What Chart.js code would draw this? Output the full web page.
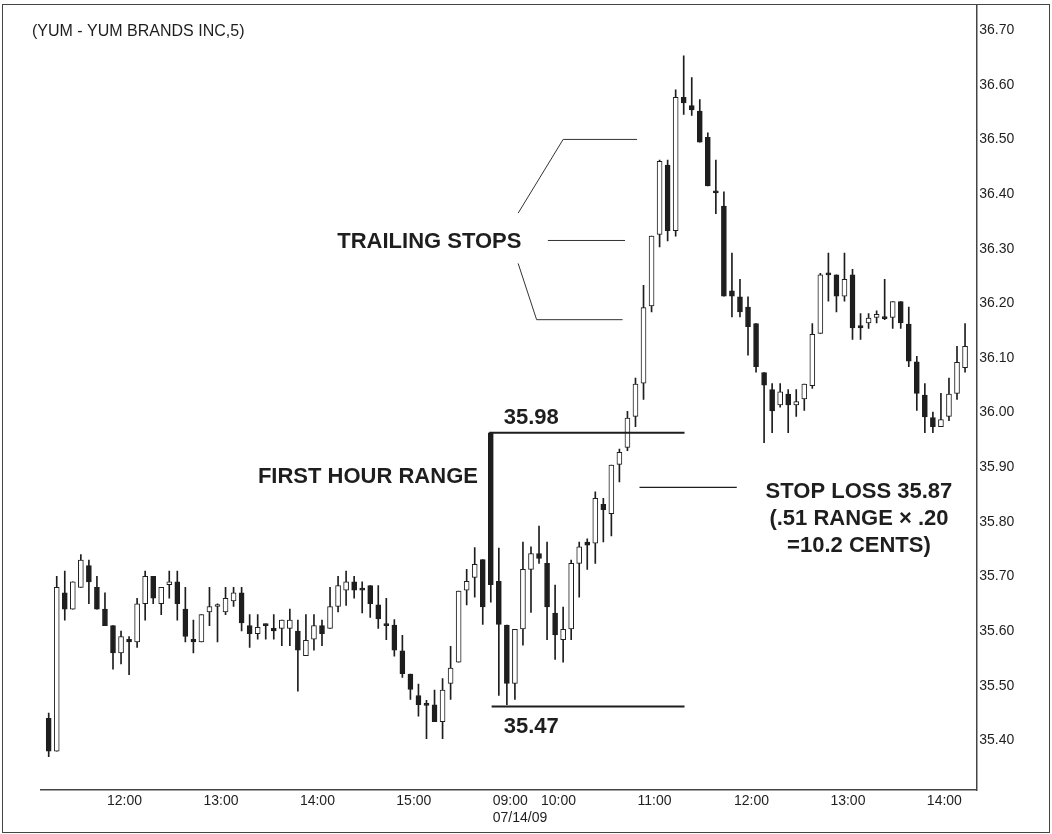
<!DOCTYPE html>
<html>
<head>
<meta charset="utf-8">
<title>YUM 5-minute bars</title>
<script src="https://cdn.jsdelivr.net/npm/chart.js@4.4.1/dist/chart.umd.min.js"></script>
<style>
  html, body { margin: 0; padding: 0; background: #fff; }
  #wrap { width: 1052px; height: 834px; }
</style>
</head>
<body>
<div id="wrap"><canvas id="chart" width="1052" height="834"></canvas></div>
<script>
// 5-minute bars, 11:25 on 07/13/09 through about 14:25 on 07/14/09 (bar 56 = 09:30 open)
const opens = [
  35.44, 35.38, 35.67, 35.64, 35.68, 35.72, 35.68, 35.64, 35.61, 35.56,
  35.585, 35.58, 35.65, 35.70, 35.65, 35.685, 35.69, 35.64, 35.585, 35.58,
  35.635, 35.645, 35.635, 35.655, 35.67, 35.61, 35.595, 35.612, 35.605, 35.605,
  35.605, 35.60, 35.555, 35.585, 35.61, 35.605, 35.645, 35.675, 35.69, 35.677,
  35.683, 35.648, 35.613, 35.611, 35.564, 35.521, 35.482, 35.466, 35.465, 35.434,
  35.504, 35.543, 35.675, 35.698, 35.731,
  35.963, 35.691, 35.611, 35.504, 35.604, 35.713, 35.742, 35.724, 35.633, 35.584,
  35.604, 35.724, 35.763, 35.761, 35.832, 35.815, 35.905, 35.936, 35.993, 36.054,
  36.195, 36.326, 36.453, 36.333, 36.577, 36.562, 36.552, 36.504, 36.406, 36.378,
  36.223, 36.212, 36.193, 36.163, 36.073, 36.042, 36.014, 36.034, 36.014, 36.025,
  36.049, 36.145, 36.254, 36.252, 36.213, 36.252, 36.159, 36.164, 36.174, 36.174,
  36.174, 36.203, 36.162, 36.093, 36.032, 35.991, 35.974, 35.993, 36.035, 36.082
];
const highs = [
  35.45, 35.70, 35.71, 35.69, 35.74, 35.73, 35.70, 35.67, 35.61, 35.60,
  35.59, 35.66, 35.71, 35.70, 35.68, 35.71, 35.71, 35.68, 35.62, 35.63,
  35.68, 35.65, 35.68, 35.68, 35.68, 35.63, 35.63, 35.613, 35.63, 35.62,
  35.64, 35.62, 35.63, 35.63, 35.62, 35.68, 35.70, 35.71, 35.70, 35.69,
  35.683, 35.683, 35.66, 35.621, 35.592, 35.521, 35.503, 35.473, 35.492, 35.513,
  35.572, 35.673, 35.713, 35.753, 35.731,
  35.963, 35.752, 35.611, 35.603, 35.763, 35.754, 35.792, 35.763, 35.684, 35.644,
  35.73, 35.763, 35.769, 35.855, 35.843, 35.904, 35.933, 36.002, 36.063, 36.233,
  36.323, 36.462, 36.462, 36.591, 36.653, 36.613, 36.573, 36.512, 36.462, 36.404,
  36.292, 36.244, 36.212, 36.163, 36.073, 36.053, 36.053, 36.042, 36.042, 36.052,
  36.163, 36.255, 36.292, 36.252, 36.292, 36.262, 36.181, 36.181, 36.186, 36.244,
  36.203, 36.203, 36.193, 36.103, 36.053, 36.001, 36.035, 36.063, 36.121, 36.163
];
const lows = [
  35.37, 35.38, 35.62, 35.64, 35.68, 35.65, 35.64, 35.61, 35.53, 35.54,
  35.52, 35.57, 35.62, 35.65, 35.63, 35.66, 35.62, 35.58, 35.56, 35.58,
  35.61, 35.58, 35.63, 35.645, 35.60, 35.57, 35.585, 35.585, 35.585, 35.573,
  35.573, 35.49, 35.555, 35.565, 35.573, 35.605, 35.635, 35.647, 35.66, 35.633,
  35.625, 35.605, 35.584, 35.554, 35.515, 35.475, 35.444, 35.403, 35.434, 35.403,
  35.475, 35.543, 35.648, 35.662, 35.612,
  35.653, 35.482, 35.465, 35.475, 35.574, 35.634, 35.724, 35.584, 35.548, 35.543,
  35.584, 35.662, 35.713, 35.724, 35.763, 35.774, 35.873, 35.93, 35.974, 36.024,
  36.184, 36.303, 36.314, 36.323, 36.546, 36.544, 36.495, 36.415, 36.364, 36.213,
  36.175, 36.175, 36.105, 36.074, 35.945, 35.963, 36.010, 35.963, 35.993, 36.004,
  36.044, 36.145, 36.204, 36.184, 36.204, 36.134, 36.134, 36.154, 36.164, 36.170,
  36.154, 36.154, 36.084, 36.004, 35.963, 35.963, 35.974, 35.985, 36.024, 36.074
];
const closes = [
  35.38, 35.68, 35.64, 35.69, 35.73, 35.69, 35.64, 35.61, 35.56, 35.59,
  35.58, 35.65, 35.70, 35.66, 35.68, 35.69, 35.65, 35.59, 35.58, 35.63,
  35.645, 35.645, 35.66, 35.67, 35.615, 35.595, 35.607, 35.61, 35.60, 35.62,
  35.62, 35.565, 35.583, 35.61, 35.595, 35.645, 35.683, 35.69, 35.675, 35.675,
  35.65, 35.622, 35.61, 35.565, 35.522, 35.493, 35.465, 35.464, 35.434, 35.492,
  35.532, 35.673, 35.691, 35.722, 35.644,
  35.685, 35.612, 35.504, 35.603, 35.713, 35.742, 35.733, 35.644, 35.593, 35.603,
  35.724, 35.754, 35.757, 35.843, 35.822, 35.904, 35.927, 35.990, 36.052, 36.192,
  36.323, 36.460, 36.333, 36.577, 36.567, 36.554, 36.495, 36.415, 36.402, 36.213,
  36.213, 36.184, 36.157, 36.084, 36.050, 36.003, 36.038, 36.014, 36.020, 36.052,
  36.143, 36.252, 36.252, 36.213, 36.244, 36.155, 36.155, 36.173, 36.180, 36.172,
  36.203, 36.164, 36.094, 36.035, 35.992, 35.974, 35.987, 36.034, 36.092, 36.121
];

const priceTicks = [35.40, 35.50, 35.60, 35.70, 35.80, 35.90, 36.00, 36.10, 36.20, 36.30, 36.40, 36.50, 36.60, 36.70];
const timeTickPos = [8, 20, 32, 44, 56, 62, 74, 86, 98, 110];
const timeTickLabels = ['12:00', '13:00', '14:00', '15:00', ['09:00', '07/14/09'], '10:00', '11:00', '12:00', '13:00', '14:00'];

// levels marked on the chart (price units)
const rangeHigh = 35.963;
const rangeLow = 35.462;
const stopLevel = 35.863;
const trailLevels = [36.50, 36.315, 36.170];

const ink = '#1e1e1e';
const labelFont = '"Liberation Sans", Arial, Helvetica, sans-serif';

const bars = opens.map((o, i) => i + 1);

// annotation layout in chart units: [bar index, price]
const notesCfg = {
  title: { text: '(YUM - YUM BRANDS INC,5)' },
  trail: [
    [[59.4, 36.365], [65.0, trailLevels[0]], [74.2, trailLevels[0]]],
    [[63.1, trailLevels[1]], [72.7, trailLevels[1]]],
    [[59.4, 36.273], [61.7, trailLevels[2]], [72.4, trailLevels[2]]]
  ],
  texts: [
    { text: 'TRAILING STOPS', at: [36.9, 36.312], align: 'left' },
    { text: '35.98', at: [57.6, 35.990], align: 'left' },
    { text: '35.47', at: [57.6, 35.424], align: 'left' },
    { text: 'FIRST HOUR RANGE', at: [54.4, 35.883], align: 'right' },
    { text: 'STOP LOSS 35.87', at: [101.8, 35.854], align: 'center' },
    { text: '(.51 RANGE \u00d7 .20', at: [101.8, 35.805], align: 'center' },
    { text: '=10.2 CENTS)', at: [101.8, 35.755], align: 'center' }
  ]
};

const notes = {
  id: 'notes',
  afterDatasetsDraw(chart) {
    const { ctx, scales: { x, y } } = chart;
    const px = v => x.getPixelForValue(v);
    const py = v => y.getPixelForValue(v);
    ctx.save();
    ctx.strokeStyle = ink;
    ctx.lineCap = 'butt';

    // first hour range lines
    ctx.lineWidth = 2;
    ctx.beginPath();
    ctx.moveTo(px(55.8), py(rangeHigh));
    ctx.lineTo(px(80.1), py(rangeHigh));
    ctx.moveTo(px(56.1), py(rangeLow));
    ctx.lineTo(px(80.1), py(rangeLow));
    ctx.stroke();

    // stop loss line
    ctx.lineWidth = 1.2;
    ctx.beginPath();
    ctx.moveTo(px(74.5), py(stopLevel));
    ctx.lineTo(px(86.6), py(stopLevel));
    ctx.stroke();

    // trailing stop pointers
    ctx.lineWidth = 1;
    ctx.strokeStyle = '#333';
    notesCfg.trail.forEach(path => {
      ctx.beginPath();
      path.forEach(([i, v], k) => k ? ctx.lineTo(px(i), py(v)) : ctx.moveTo(px(i), py(v)));
      ctx.stroke();
    });

    ctx.fillStyle = ink;
    ctx.font = 'bold 22px ' + labelFont;
    ctx.textBaseline = 'middle';
    notesCfg.texts.forEach(t => {
      ctx.textAlign = t.align;
      ctx.fillText(t.text, px(t.at[0]), py(t.at[1]));
    });
    ctx.restore();
  },
  afterDraw(chart) {
    const { ctx } = chart;
    ctx.save();
    ctx.strokeStyle = '#444';
    ctx.lineWidth = 1;
    ctx.strokeRect(2.5, 4.5, 1047, 828);
    ctx.fillStyle = ink;
    ctx.font = '16px ' + labelFont;
    ctx.textAlign = 'left';
    ctx.textBaseline = 'middle';
    ctx.fillText(notesCfg.title.text, 32, 32);
    ctx.restore();
  }
};

new Chart(document.getElementById('chart'), {
  type: 'bar',
  data: {
    datasets: [
      {
        label: 'range',
        data: bars.map((b, i) => ({ x: b, y: [lows[i], highs[i]] })),
        backgroundColor: ink,
        borderWidth: 0,
        barThickness: 1,
        grouped: false,
        order: 2
      },
      {
        label: 'body',
        data: bars.map((b, i) => ({ x: b, y: [opens[i], closes[i]] })),
        backgroundColor: opens.map((o, i) => closes[i] >= o ? '#ffffff' : ink),
        borderColor: ink,
        borderWidth: 1,
        borderSkipped: false,
        barThickness: 5,
        minBarLength: 2,
        grouped: false,
        order: 1
      }
    ]
  },
  options: {
    responsive: false,
    animation: false,
    devicePixelRatio: 1,
    layout: { padding: { left: 40.66, top: 4.5, right: 0, bottom: 0 } },
    plugins: { legend: { display: false }, tooltip: { enabled: false } },
    scales: {
      x: {
        type: 'linear',
        offset: false,
        min: 0,
        max: 116.4,
        grid: { display: false, drawTicks: false },
        border: { display: true, color: '#444', width: 1.5 },
        afterFit: s => { s.height = 44; s.paddingLeft = 0; s.paddingRight = 0; },
        afterBuildTicks: s => { s.ticks = timeTickPos.map(v => ({ value: v })); },
        ticks: {
          autoSkip: false,
          maxRotation: 0,
          align: 'start',
          labelOffset: 2,
          padding: 3,
          color: ink,
          font: { family: labelFont, size: 14, lineHeight: 1.2 },
          callback: (v, i) => timeTickLabels[i]
        }
      },
      y: {
        position: 'right',
        min: 35.309,
        max: 36.747,
        grid: { display: false, drawTicks: false },
        border: { display: true, color: '#444', width: 1.5 },
        afterFit: s => { s.width = 75.7; s.paddingTop = 0; s.paddingBottom = 0; },
        afterBuildTicks: s => { s.ticks = priceTicks.map(v => ({ value: v })); },
        ticks: {
          padding: 3,
          color: ink,
          font: { family: labelFont, size: 14 },
          callback: v => v.toFixed(2)
        }
      }
    }
  },
  plugins: [notes]
});
</script>
</body>
</html>
